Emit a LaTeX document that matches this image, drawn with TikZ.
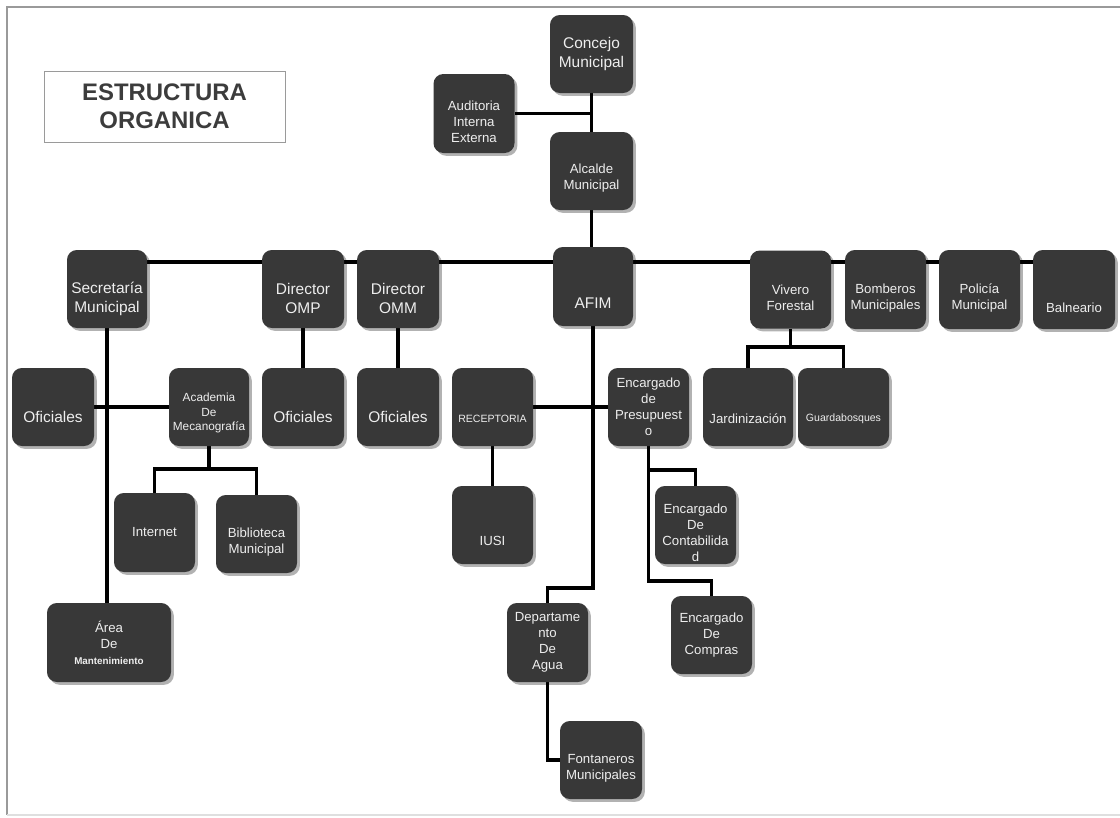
\documentclass[tikz,border=0pt]{standalone}
\usepackage{fontspec}
\setmainfont{Liberation Sans}
\usetikzlibrary{shadows, backgrounds}
\definecolor{boxgray}{HTML}{383838}
\definecolor{lettering}{HTML}{EEEEEE}
\definecolor{titlegray}{HTML}{3C3C3C}
\definecolor{framegray}{HTML}{9A9A9A}
\newcommand{\orgbig}{\fontsize{11}{13.4}\selectfont}
\newcommand{\orgmid}{\fontsize{9.4}{11.4}\selectfont}
\newcommand{\orgsmall}{\fontsize{8.4}{10.2}\selectfont}
\newcommand{\orgtiny}{\fontsize{7.5}{9}\selectfont}

\begin{document}
\begin{tikzpicture}[
    x=0.025cm, y=-0.025cm,
    wh/.style 2 args={minimum width=#1*0.025cm, minimum height=#2*0.025cm},
    box/.style={fill=boxgray, rounded corners=7pt, inner sep=0pt, wh={81}{78},
                drop shadow={shadow xshift=2pt, shadow yshift=-2pt, opacity=0.3, fill=black}},
    tx/.style n args={3}{label={[text=lettering, align=center, font=#1,
                yshift=-#2*0.7115pt]center:{#3}}},
    link/.style={line width=2.2pt},
    heavy/.style={line width=3.2pt},
]
    \useasboundingbox (0,0) rectangle (1120,817);
    \draw[framegray, line width=0.8pt] (1120,7) -- (7,7) -- (7,815);
    \draw[gray!25, line width=0.8pt] (7,815) -- (1120,815);

    % title
    \node[draw=framegray, line width=0.6pt, wh={241}{71}, align=center,
          font=\bfseries\fontsize{17}{20}\selectfont, text=titlegray] (titulo)
          at (164.5,106.5) {ESTRUCTURA\\ORGANICA};

    % top of the chart
    \node[box, wh={83}{78}, tx={\orgbig}{0}{Concejo\\Municipal}] (concejo) at (591.5,54) {};
    \node[box, wh={81}{79}, tx={\orgmid}{8}{Auditoria\\Interna\\Externa}] (auditoria) at (474,113.5) {};
    \node[box, wh={83}{78}, tx={\orgmid}{7}{Alcalde\\Municipal}] (alcalde) at (591.5,171) {};

    % second row
    \node[box, wh={80}{79}, tx={\orgbig}{17}{AFIM}] (afim) at (593,286.5) {};
    \node[box, wh={80}{78}, tx={\orgbig}{9.5}{Secretaría\\Municipal}] (secretaria) at (107,289) {};
    \node[box, wh={82}{78}, tx={\orgbig}{9.5}{Director\\OMP}] (omp) at (303,289) {};
    \node[box, wh={82}{78}, tx={\orgbig}{9.5}{Director\\OMM}] (omm) at (398,289) {};
    \node[box, tx={\orgmid}{8.5}{Vivero\\Forestal}] (vivero) at (790.5,289.5) {};
    \node[box, wh={81}{79}, tx={\orgmid}{8.5}{Bomberos\\Municipales}] (bomberos) at (885.5,289.5) {};
    \node[box, wh={81}{79}, tx={\orgmid}{8.5}{Policía\\Municipal}] (policia) at (979.5,289.5) {};
    \node[box, wh={82}{79}, tx={\orgmid}{18.5}{Balneario}] (balneario) at (1074,289.5) {};

    % third row
    \node[box, wh={82}{78}, tx={\orgbig}{10}{Oficiales}] (ofi1) at (53,407) {};
    \node[box, wh={80}{78}, tx={\orgsmall}{6}{Academia\\De\\Mecanografía}] (acad) at (209,407) {};
    \node[box, wh={82}{78}, tx={\orgbig}{10}{Oficiales}] (ofi2) at (303,407) {};
    \node[box, wh={82}{78}, tx={\orgbig}{10}{Oficiales}] (ofi3) at (398,407) {};
    \node[box, tx={\orgtiny}{12}{RECEPTORIA}] (recep) at (492.5,407) {};
    \node[box, tx={\orgmid}{0}{Encargado\\de\\Presupuest\\o}] (presup) at (648.5,407) {};
    \node[box, wh={90}{78}, tx={\orgmid}{12}{Jardinización}] (jardin) at (748,407) {};
    \node[box, wh={91}{78}, tx={\orgtiny}{12}{Guardabosques}] (guarda) at (843.5,407) {};

    % lower rows
    \node[box, wh={81}{79}, tx={\orgmid}{0}{Internet}] (internet) at (154.5,532.5) {};
    \node[box, tx={\orgmid}{8.5}{Biblioteca\\Municipal}] (biblio) at (256.5,534) {};
    \node[box, tx={\orgmid}{16}{IUSI}] (iusi) at (492.5,525) {};
    \node[box, tx={\orgmid}{7.5}{Encargado\\De\\Contabilida\\d}] (contab) at (695.5,525) {};
    \node[box, wh={124}{79}, tx={\orgmid}{0}{Área\\De\\{\bfseries\fontsize{7}{9}\selectfont Mantenimiento}}] (area) at (109,642.5) {};
    \node[box, wh={81}{79}, tx={\orgmid}{0}{Departame\\nto\\De\\Agua}] (depto) at (547.5,642.5) {};
    \node[box, tx={\orgmid}{0}{Encargado\\De\\Compras}] (compras) at (711.5,635) {};
    \node[box, wh={82}{78}, tx={\orgmid}{8}{Fontaneros\\Municipales}] (fontaneros) at (601,760) {};

    % connectors, behind the boxes
    \begin{pgfonlayer}{background}
        \fill[white] (0,0) rectangle (1120,817);
        \draw[link] (concejo) -- (alcalde);
        \draw[link] (auditoria) -- (auditoria -| concejo);
        \draw[link] (alcalde.south) -- (alcalde.south |- afim.north);
        \coordinate (bus) at (secretaria |- 0,262);
        \draw[link] (bus) -- (bus -| afim);
        \draw[heavy] (bus -| afim) -- (bus -| policia);
        \draw[link] (bus -| policia) -- (bus -| balneario);
        \draw[link] (secretaria) -- (secretaria |- area.north);
        \draw[link] (ofi1) -- (acad);
        \coordinate (acadfork) at (acad |- 0,469);
        \draw[link] (acad) -- (acadfork);
        \draw[link] (internet) |- (acadfork) -| (biblio);
        \draw[link] (omp) -- (ofi2);
        \draw[link] (omm) -- (ofi3);
        \draw[link] (recep) -- (presup);
        \draw[link] (recep) -- (iusi);
        \coordinate (afimturn) at (afim |- 0,588);
        \draw[link] (afim) -- (afimturn) -| (depto);
        \draw[link] (depto) |- (fontaneros);
        \coordinate (presfork) at (presup |- 0,470);
        \coordinate (presturn) at (presup |- 0,581);
        \draw[link] (presup) -- (presturn) -| (compras);
        \draw[link] (presfork) -| (contab);
        \coordinate (vivfork) at (vivero |- 0,347);
        \draw[link] (vivero) -- (vivfork);
        \draw[link] (jardin) |- (vivfork) -| (guarda);
    \end{pgfonlayer}
\end{tikzpicture}
\end{document}
